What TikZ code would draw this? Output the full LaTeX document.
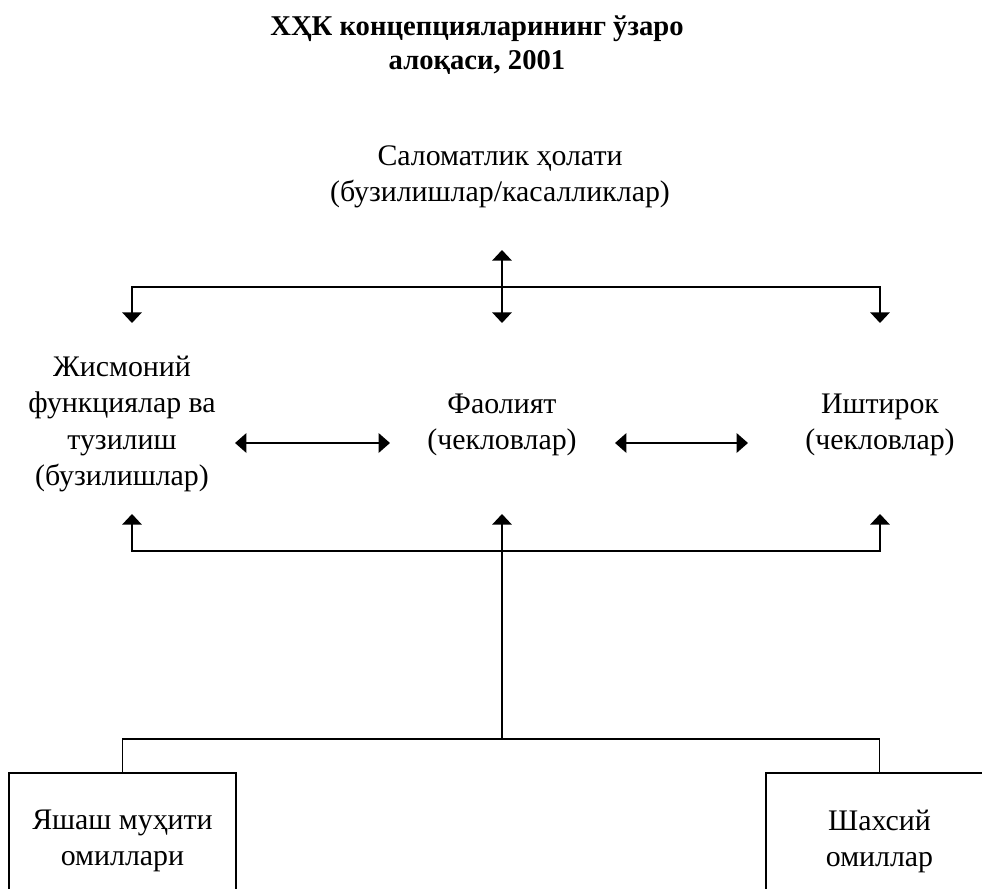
\documentclass[tikz,border=0pt]{standalone}
\usepackage{fontspec}
\setmainfont{Liberation Serif}
\usepackage{tikz}
\tikzset{font={\fontsize{17pt}{20.5pt}\selectfont}}
\usetikzlibrary{arrows.meta}

\begin{document}
\begin{tikzpicture}[x=0.02cm,y=-0.02cm,>={Triangle[width=11pt,length=6pt]},
                    line width=0.8pt,
                    text node/.style={align=center,inner sep=0pt},
                    factor node/.style={draw,line width=0.8pt,align=center,
                      minimum width=4.54cm,minimum height=2.72cm},
                    link/.style={<->,line width=1.5pt,>={Triangle[width=11pt,length=6.5pt]}}]
  \useasboundingbox (0,0) rectangle (982,888);
  \clip (0,0) rectangle (982,888);

  \node[text node,font={\fontsize{16.3pt}{19.4pt}\selectfont\bfseries}] (title) at (477,45)
    {ХҲК концепцияларининг ўзаро\\алоқаси, 2001};

  \node[text node] (health)   at (500,177) {Саломатлик ҳолати\\(бузилишлар/касалликлар)};
  \node[text node] (body)     at (122,424) {Жисмоний\\функциялар ва\\тузилиш\\(бузилишлар)};
  \node[text node] (activity) at (502,425) {Фаолият\\(чекловлар)};
  \node[text node] (particip) at (880,425) {Иштирок\\(чекловлар)};

  \node[factor node] (env)      at (122.5,841) {Яшаш муҳити\\омиллари};
  \node[factor node] (personal) at (879.5,841) {Шахсий\\омиллар};

  % ends of the arrows
  \coordinate (h-in) at (502,250);
  \coordinate (b-in) at (132,323);
  \coordinate (a-in) at (502,323);
  \coordinate (p-in) at (880,323);
  \coordinate (b-out) at (132,514);
  \coordinate (a-out) at (502,514);
  \coordinate (p-out) at (880,514);
  \coordinate (topbus) at (502,287);
  \coordinate (midbus) at (502,551);
  \coordinate (lowbus) at (502,739);
  \coordinate (ba-l) at (235,443);
  \coordinate (ba-r) at (390,443);
  \coordinate (ap-l) at (615,443);
  \coordinate (ap-r) at (748,443);

  \draw[<->] (h-in) -- (a-in);
  \draw[<->] (b-in) |- (topbus) -| (p-in);
  \draw[link] (ba-l) -- (ba-r);
  \draw[link] (ap-l) -- (ap-r);
  \draw[<->] (b-out) |- (midbus) -| (p-out);
  \draw[->] (lowbus) -- (a-out);
  \draw (env.north) |- (lowbus) -| (personal.north);
\end{tikzpicture}
\end{document}
